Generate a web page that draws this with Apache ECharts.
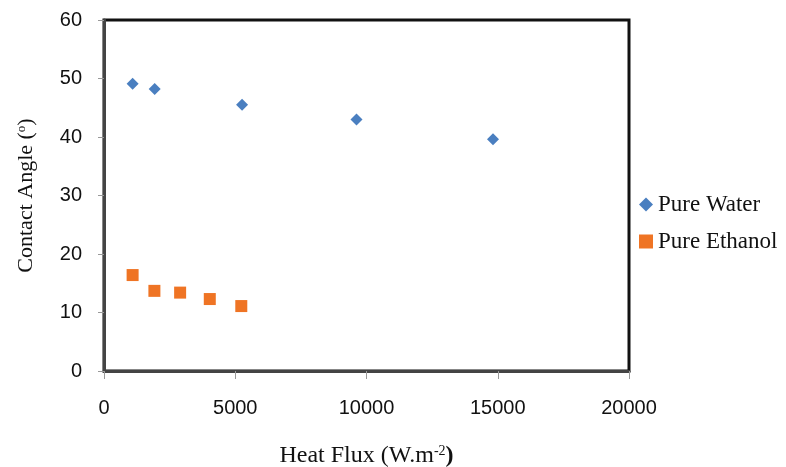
<!DOCTYPE html>
<html>
<head>
<meta charset="utf-8">
<script src="https://cdn.jsdelivr.net/npm/echarts@6/dist/echarts.min.js"></script>
<style>
  html, body { margin: 0; padding: 0; background: #fff; }
  #chart { width: 786px; height: 467px; }
</style>
</head>
<body>
<div id="chart"></div>
<script>
var chart = echarts.init(document.getElementById('chart'));

// heat flux (W/m2) and contact angle (deg)
var waterFlux = [1090, 1930, 5260, 9620, 14820];
var waterAngle = [49.1, 48.2, 45.5, 43.0, 39.6];
var ethanolFlux = [1090, 1920, 2900, 4030, 5230];
var ethanolAngle = [16.4, 13.7, 13.4, 12.3, 11.1];

var xTicks = [0, 5000, 10000, 15000, 20000];
var yTicks = [0, 10, 20, 30, 40, 50, 60];

function pairs(xs, ys) {
    return xs.map(function (x, i) { return [x, ys[i]]; });
}

var serif = 'Liberation Serif';
var tickFont = 'Liberation Sans';

var option = {
    backgroundColor: '#fff',
    animation: false,
    grid: {
        left: 104, right: 157, top: 20, bottom: 96,
        outerBoundsMode: 'none',
        show: true,
        borderColor: '#111',
        borderWidth: 3,
        backgroundColor: 'transparent'
    },
    legend: {
        orient: 'vertical',
        left: 634,
        top: 188,
        itemGap: 14,
        itemWidth: 14,
        itemHeight: 14,
        textStyle: { fontFamily: serif, fontSize: 23, color: '#111' },
        data: [
            { name: 'Pure Water', icon: 'diamond' },
            { name: 'Pure Ethanol', icon: 'rect' }
        ]
    },
    xAxis: {
        type: 'value',
        min: xTicks[0],
        max: xTicks[xTicks.length - 1],
        interval: 5000,
        name: 'Heat Flux (W.m{sup|-2}{b|)}',
        nameLocation: 'middle',
        nameGap: 73,
        nameTextStyle: {
            fontFamily: serif, fontSize: 24, color: '#111',
            rich: {
                sup: { fontFamily: serif, fontSize: 14, color: '#111', padding: [0, 0, 10, 0] },
                b: { fontFamily: serif, fontSize: 24, color: '#111', fontWeight: 'bold' }
            }
        },
        splitLine: { show: false },
        axisLine: { lineStyle: { color: '#444', width: 3 } },
        axisTick: { show: true, length: 8, lineStyle: { color: '#999', width: 1 } },
        axisLabel: {
            fontFamily: tickFont, fontSize: 20, color: '#111', margin: 27,
            formatter: function (v) { return String(v); }
        }
    },
    yAxis: {
        type: 'value',
        min: yTicks[0],
        max: yTicks[yTicks.length - 1],
        interval: 10,
        name: 'Contact Angle ({sup|o})',
        nameLocation: 'middle',
        nameGap: 67,
        nameTextStyle: {
            fontFamily: serif, fontSize: 22, color: '#111',
            rich: {
                sup: { fontFamily: serif, fontSize: 13, color: '#111', padding: [0, 0, 9, 0] }
            }
        },
        splitLine: { show: false },
        axisLine: { show: true, lineStyle: { color: '#444', width: 3 } },
        axisTick: { show: true, length: 6, lineStyle: { color: '#999', width: 1 } },
        axisLabel: { fontFamily: tickFont, fontSize: 20, color: '#111', margin: 22 }
    },
    series: [
        {
            name: 'Pure Water',
            type: 'scatter',
            symbol: 'diamond',
            symbolSize: 12,
            itemStyle: { color: '#4a7fc0', opacity: 1 },
            data: pairs(waterFlux, waterAngle)
        },
        {
            name: 'Pure Ethanol',
            type: 'scatter',
            symbol: 'rect',
            symbolSize: 12,
            itemStyle: { color: '#ef7424', opacity: 1 },
            data: pairs(ethanolFlux, ethanolAngle)
        }
    ]
};

chart.setOption(option);
</script>
</body>
</html>
